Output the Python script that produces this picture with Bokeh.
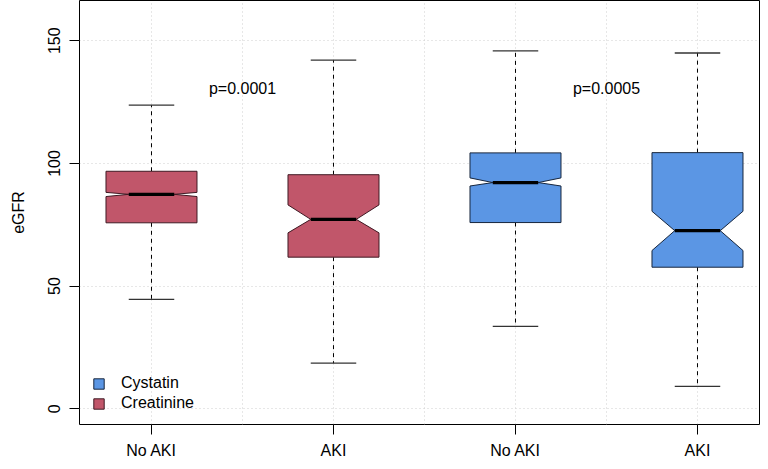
from bokeh.plotting import figure
from bokeh.models import Range1d, FixedTicker, Legend, LegendItem
from bokeh.embed import file_html
from bokeh.resources import INLINE
from bokeh.core.properties import value

# ---- data ----
tick_labels = ["No AKI", "AKI", "No AKI", "AKI"]
positions = [1, 2, 3, 4]
groups = ["Creatinine", "Creatinine", "Cystatin", "Cystatin"]
whisker_lo = [44.6, 18.6, 33.6, 9.1]
q1 = [75.8, 61.8, 75.9, 57.7]
notch_lo = [86.5, 71.7, 90.8, 64.5]
median = [87.4, 77.2, 92.2, 72.6]
notch_hi = [88.2, 83.1, 94.1, 80.5]
q3 = [96.8, 95.4, 104.3, 104.4]
whisker_hi = [123.8, 142.1, 145.9, 145.0]
y_ticks = [0, 50, 100, 150]
p_labels = ["p=0.0001", "p=0.0005"]
p_x = [1.5, 3.5]
p_y = [130.5, 130.5]

RED = "#C1566A"
BLUE = "#5B96E4"
RED_EDGE = "#3f1a24"
BLUE_EDGE = "#17263d"
FONT = "Liberation Sans"

half = 0.25  # half box width (x units)

p = figure(width=760, height=461, output_backend="svg", toolbar_location=None,
           x_range=Range1d(0.6044, 4.3407), y_range=Range1d(-6.4, 166.4),
           min_border_left=79, min_border_right=1, min_border_top=0, min_border_bottom=37)
p.background_fill_color = "white"
p.border_fill_color = "white"
p.outline_line_color = "black"
p.outline_line_width = 1
p.outline_line_alpha = 1

# grids
p.xgrid.ticker = FixedTicker(ticks=[1, 1.5, 2, 2.5, 3, 3.5, 4])
p.ygrid.ticker = FixedTicker(ticks=y_ticks)
for g in (p.xgrid, p.ygrid):
    g.grid_line_color = "#cfcfcf"
    g.grid_line_dash = "1 3"
    g.grid_line_width = 1

# axes
xa = p.xaxis[0]
xa.ticker = FixedTicker(ticks=positions)
xa.major_label_overrides = {pos: lab for pos, lab in zip(positions, tick_labels)}
ya = p.yaxis[0]
ya.ticker = FixedTicker(ticks=y_ticks)
ya.major_label_orientation = "vertical"
ya.axis_label = "eGFR"
for ax in (xa, ya):
    ax.axis_line_color = None
    ax.major_tick_out = 10
    ax.major_tick_in = 0
    ax.minor_tick_line_color = None
    ax.major_tick_line_color = "black"
    ax.major_label_text_font = FONT
    ax.major_label_text_font_size = "16px"
    ax.major_label_text_color = "black"
    ax.axis_label_text_font = FONT
    ax.axis_label_text_font_size = "16px"
    ax.axis_label_text_font_style = "normal"
    ax.axis_label_text_color = "black"
xa.major_label_standoff = 7
ya.major_label_standoff = 9
ya.axis_label_standoff = 19

renderers = {}
for grp, fill, edge in (("Creatinine", RED, RED_EDGE), ("Cystatin", BLUE, BLUE_EDGE)):
    xs, ys = [], []
    idx = [i for i, g in enumerate(groups) if g == grp]
    for i in idx:
        c = positions[i]
        xs.append([c - half, c - half, c - half / 2, c - half, c - half,
                   c + half, c + half, c + half / 2, c + half, c + half])
        ys.append([q1[i], notch_lo[i], median[i], notch_hi[i], q3[i],
                   q3[i], notch_hi[i], median[i], notch_lo[i], q1[i]])
    # whiskers
    p.segment(x0=[positions[i] for i in idx], y0=[q3[i] for i in idx],
              x1=[positions[i] for i in idx], y1=[whisker_hi[i] for i in idx],
              line_color="black", line_dash="4 4", line_width=1)
    p.segment(x0=[positions[i] for i in idx], y0=[q1[i] for i in idx],
              x1=[positions[i] for i in idx], y1=[whisker_lo[i] for i in idx],
              line_color="black", line_dash="4 4", line_width=1)
    # caps
    p.segment(x0=[positions[i] - half / 2 for i in idx], y0=[whisker_hi[i] for i in idx],
              x1=[positions[i] + half / 2 for i in idx], y1=[whisker_hi[i] for i in idx],
              line_color="#333333", line_width=1.3)
    p.segment(x0=[positions[i] - half / 2 for i in idx], y0=[whisker_lo[i] for i in idx],
              x1=[positions[i] + half / 2 for i in idx], y1=[whisker_lo[i] for i in idx],
              line_color="#333333", line_width=1.3)
    r = p.patches(xs=xs, ys=ys, fill_color=fill, line_color=edge, line_width=1)
    renderers[grp] = r
    # median
    p.segment(x0=[positions[i] - half / 2 for i in idx], y0=[median[i] for i in idx],
              x1=[positions[i] + half / 2 for i in idx], y1=[median[i] for i in idx],
              line_color="black", line_width=3.2)

# p-value labels
p.text(x=p_x, y=p_y, text=p_labels, text_font=value(FONT), text_font_size="16px",
       text_align="center", text_baseline="middle", text_color="black")

legend = Legend(items=[LegendItem(label="Cystatin", renderers=[renderers["Cystatin"]]),
                       LegendItem(label="Creatinine", renderers=[renderers["Creatinine"]])],
                location=(13, 11), margin=0, padding=0, spacing=0,
                glyph_width=13, glyph_height=13, label_height=20, label_standoff=16,
                label_text_font=FONT, label_text_font_size="16px", label_text_color="black",
                border_line_color=None, background_fill_alpha=0)
p.add_layout(legend, "center")

open("out.html", "w").write(file_html(p, INLINE))
